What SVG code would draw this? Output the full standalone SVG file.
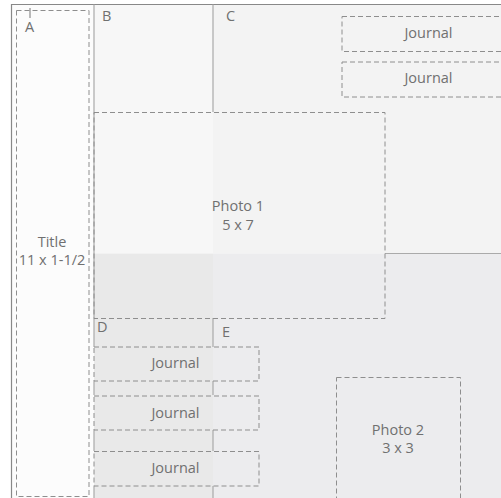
<svg xmlns="http://www.w3.org/2000/svg" width="501" height="498" viewBox="0 0 501 498">
<style>
.t{font-family:"Open Sans","Noto Sans","Liberation Sans",sans-serif;font-size:14.5px;fill:#707070}
.c{text-anchor:middle}
.d{fill:none;stroke:#8e8e8e;stroke-width:1;stroke-dasharray:5 3}
.s{stroke:#aaaaaa;stroke-width:1.2;fill:none}
</style>
<rect width="501" height="498" fill="#ffffff"/>
<g id="panels">
<rect id="panelA" x="11.5" y="4.5" width="82.5" height="494" fill="#fcfcfc"/>
<rect id="panelB" x="94" y="4.5" width="119" height="249" fill="#f7f7f7"/>
<rect id="panelC" x="213" y="4.5" width="288" height="249" fill="#f3f3f3"/>
<rect id="panelD" x="94" y="253.5" width="119" height="245" fill="#e9e9e9"/>
<rect id="panelE" x="213" y="253.5" width="288" height="245" fill="#ececee"/>
</g>
<g id="dividers">
<path d="M11.5 498V4.5H501" fill="none" stroke="#888888" stroke-width="1.2"/>
<path class="s" d="M94 4.5V347M94 381V395M94 430V451M94 486V498"/>
<path class="s" d="M213 4.5V112M213 318V347M213 381V395M213 430V451M213 486V498"/>
<path class="s" d="M385 253.5H501"/>
<line x1="30" y1="8" x2="30" y2="18" stroke="#777" stroke-width="1"/>
</g>
<g id="A">
<rect class="d" x="16.5" y="10.5" width="72.5" height="486"/>
<text class="t" x="25" y="32">A</text>
<text class="t c" x="52" y="247">Title</text>
<text class="t c" x="52" y="265">11 x 1-1/2</text>
</g>
<g id="B"><text class="t" x="102" y="21">B</text></g>
<g id="C"><text class="t" x="226" y="21">C</text></g>
<g id="D"><text class="t" x="97" y="332">D</text></g>
<g id="E"><text class="t" x="222" y="337">E</text></g>
<g id="photo1">
<rect class="d" x="94" y="112.5" width="291" height="206"/>
<text class="t c" x="238" y="211">Photo 1</text>
<text class="t c" x="238" y="230">5 x 7</text>
</g>
<g id="photo2">
<rect class="d" x="336.5" y="377.5" width="124" height="130"/>
<text class="t c" x="398" y="435">Photo 2</text>
<text class="t c" x="398" y="453">3 x 3</text>
</g>
<g id="journalC1">
<rect class="d" x="342" y="16.5" width="170" height="35"/>
<text class="t c" x="428.5" y="38">Journal</text>
</g>
<g id="journalC2">
<rect class="d" x="342" y="62" width="170" height="35"/>
<text class="t c" x="428.5" y="83">Journal</text>
</g>
<g id="journalD1">
<rect class="d" x="94" y="347" width="165" height="34"/>
<text class="t c" x="175.5" y="368">Journal</text>
</g>
<g id="journalD2">
<rect class="d" x="94" y="396" width="165" height="34"/>
<text class="t c" x="175.5" y="418">Journal</text>
</g>
<g id="journalD3">
<rect class="d" x="94" y="451.5" width="165" height="34.5"/>
<text class="t c" x="175.5" y="473">Journal</text>
</g>
</svg>
